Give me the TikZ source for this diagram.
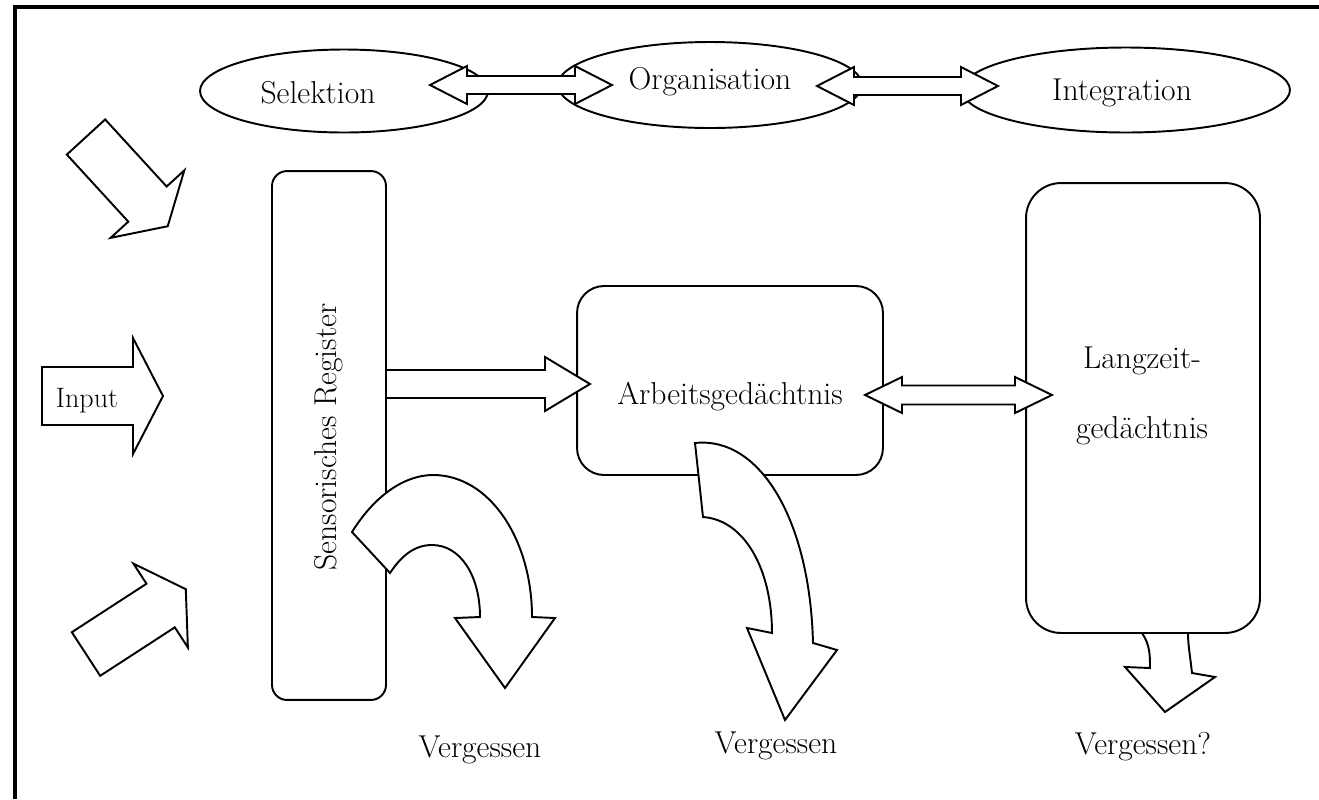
\documentclass[tikz,border=0pt]{standalone}
\usetikzlibrary{shapes.geometric}

\tikzset{
  ell/.style={draw, ellipse, line width=1.1pt, inner sep=0pt},
  memory/.style={draw, rectangle, line width=1.1pt, inner sep=0pt},
  blk/.style={draw, fill=white, line width=1.1pt, line join=miter},
  lbl/.style={font=\fontsize{18}{22}\selectfont},
  pics/fatarrow/.style n args={4}{code={
    \draw[blk] (0,-#2) -- ({#1-#4},-#2) -- ({#1-#4},-#3) -- (#1,0)
      -- ({#1-#4},#3) -- ({#1-#4},#2) -- (0,#2) -- cycle;
  }},
  pics/dblarrow/.style n args={4}{code={
    \draw[blk] (0,0) -- (#4,-#3) -- (#4,-#2) -- ({#1-#4},-#2) -- ({#1-#4},-#3)
      -- (#1,0) -- ({#1-#4},#3) -- ({#1-#4},#2) -- (#4,#2) -- (#4,#3) -- cycle;
  }},
}

\begin{document}
\begin{tikzpicture}[x=0.02cm, y=-0.02cm]
  \useasboundingbox (0,0) rectangle (1319,799);
  \draw[line width=1.8pt] (15,799) -- (15,7) -- (1319,7);

  % top row
  \node[ell, minimum width=5.76cm, minimum height=1.66cm,
    label={[lbl, xshift=-0.52cm, yshift=-0.04cm]center:Selektion}] (sel) at (344,91) {};
  \node[ell, minimum width=6.08cm, minimum height=1.72cm,
    label={[lbl, yshift=0.06cm]center:Organisation}] (org) at (710,85) {};
  \node[ell, minimum width=6.56cm, minimum height=1.70cm,
    label={[lbl, xshift=-0.08cm, yshift=-0.06cm]center:Integration}] (int) at (1126,90) {};

  % stores
  \node[memory, rounded corners=0.3cm, minimum width=2.28cm, minimum height=10.58cm] (sens) at (329,435.5) {};
  \node[lbl, rotate=90] (senstxt) at (329,437) {Sensorisches Register};
  \node[memory, rounded corners=0.54cm, minimum width=6.12cm, minimum height=3.78cm] (arb) at (730,380.5) {};
  \node[lbl] (arbtxt) at (730,397) {Arbeitsgedächtnis};
  \node[memory, rounded corners=0.7cm, minimum width=4.68cm, minimum height=9cm] (lang) at (1143,408) {};
  \node[align=center, font=\fontsize{18}{40}\selectfont] (langtxt) at (1142,396) {Langzeit-\\gedächtnis};

  % input
  \pic[rotate=-47.5] at (86,137) {fatarrow={121}{26}{50}{30}};
  \pic at (42,396) {fatarrow={121}{29}{58}{30}};
  \node[font=\fontsize{16}{19}\selectfont] (input) at (87,401) {Input};
  \pic[rotate=33] at (86,654) {fatarrow={119}{26}{50}{30}};

  \pic at (386,384) {fatarrow={204}{14}{27}{45}};
  \pic at (865,395) {dblarrow={187}{9.5}{18}{37}};
  \pic at (430,85) {dblarrow={182}{9}{19}{37}};
  \pic at (817,86) {dblarrow={181}{9}{19}{37}};

  % forgetting
  \draw[blk] (352,532) .. controls (375,495) and (405,475) .. (433,475)
    .. controls (490,475) and (532,540) .. (532,617) -- (555,618) -- (505,688)
    -- (455,618) -- (480,617) .. controls (480,575) and (460,545) .. (432,545)
    .. controls (415,545) and (402,555) .. (390,573) -- cycle;
  \draw[blk] (695,443) .. controls (760,436) and (810,520) .. (813,643)
    -- (837,650) -- (785,720) -- (747,628) -- (772,633)
    .. controls (772,570) and (745,520) .. (703,517) -- cycle;
  \draw[blk] (1142,633) .. controls (1150,645) and (1150,655) .. (1150,668)
    -- (1125,667) -- (1165,712) -- (1215,677) -- (1192,673)
    .. controls (1190,655) and (1188,645) .. (1188,633) -- cycle;

  \node[lbl] (verg1) at (480,750) {Vergessen};
  \node[lbl] (verg2) at (776,746) {Vergessen};
  \node[lbl] (verg3) at (1143,747) {Vergessen?};
\end{tikzpicture}
\end{document}
